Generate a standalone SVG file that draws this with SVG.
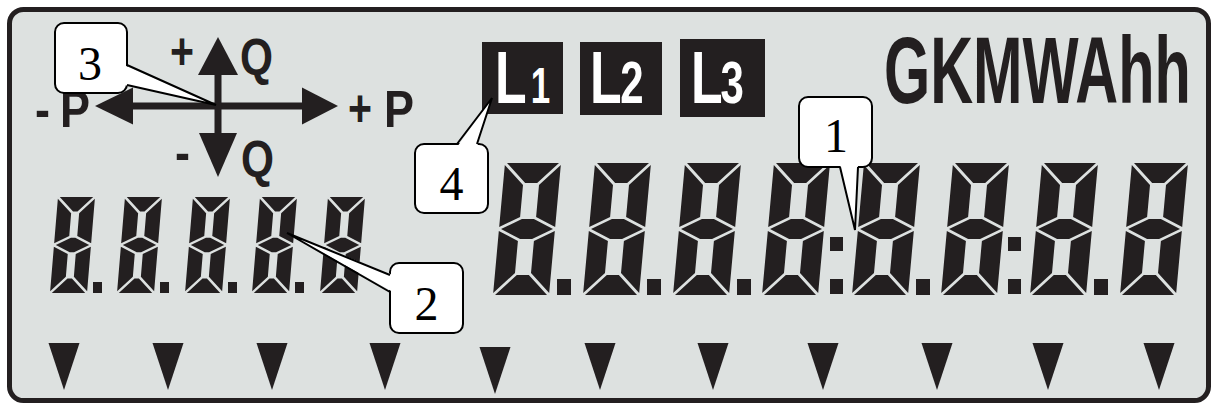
<svg xmlns="http://www.w3.org/2000/svg" xmlns:xlink="http://www.w3.org/1999/xlink" width="1212" height="405" viewBox="0 0 1212 405">
<style>
.lbl{font-family:"Liberation Sans",Arial,sans-serif;font-weight:bold;font-size:52px;fill:#231f20}
.ph{font-family:"Liberation Sans",Arial,sans-serif;font-weight:bold;fill:#fff}
.unit{font-family:"Liberation Sans",Arial,sans-serif;font-weight:bold;font-size:95px;fill:#231f20}
.ink{fill:#231f20}
.box{fill:#fff;stroke:#000;stroke-width:2}
.num{font-family:"Liberation Serif","Times New Roman",serif;font-size:48px;fill:#000;text-anchor:middle}
.tailfill{fill:#fff;stroke:none}
.tail{fill:none;stroke:#000;stroke-width:2;stroke-linejoin:miter}
</style>
<defs>
<path id="big8" d="M2,0H54L34,20H22Z M56,2V64L36,54V22Z M56,68V130L36,110V78Z M2,132H54L34,112H22Z M0,68V130L20,110V78Z M0,2V64L20,54V22Z M2,66L22,56H34L54,66L34,76H22Z"/>
<path id="small8" d="M1.8,0H35.2L20.7,14.5H16.3Z M37,1.8V46.2L22.5,38.95V16.3Z M37,49.8V94.2L22.5,79.7V57.05Z M1.8,96H35.2L20.7,81.5H16.3Z M0,49.8V94.2L14.5,79.7V57.05Z M0,1.8V46.2L14.5,38.95V16.3Z M1.8,48L16.3,40.75H20.7L35.2,48L20.7,55.25H16.3Z"/>
<polygon id="tri" points="-15.5,0 15.5,0 0,47"/>
</defs>
<rect width="1212" height="405" fill="#fff"/>
<g id="lcd-frame">
<rect x="9.5" y="9.5" width="1199" height="391" rx="14" fill="#dde1e0" stroke="#231f20" stroke-width="5"/>
</g>
<g id="pq-indicator" class="ink">
<rect x="130" y="102.5" width="176" height="7"/>
<polygon points="95,106 133,87.5 133,124.5"/>
<polygon points="338,106 302,87.5 302,124.5"/>
<rect x="214.5" y="70" width="7" height="68"/>
<polygon points="218,37 198,75 238,75"/>
<polygon points="218,177 199,133 237,133"/>
<text class="lbl" x="35" y="127" textLength="15" lengthAdjust="spacingAndGlyphs">-</text>
<text class="lbl" x="60" y="127" textLength="30" lengthAdjust="spacingAndGlyphs">P</text>
<text class="lbl" x="170" y="69" textLength="24" lengthAdjust="spacingAndGlyphs">+</text>
<text class="lbl" x="240" y="75" textLength="33" lengthAdjust="spacingAndGlyphs">Q</text>
<text class="lbl" x="348" y="126" textLength="24" lengthAdjust="spacingAndGlyphs">+</text>
<text class="lbl" x="384" y="127" textLength="30" lengthAdjust="spacingAndGlyphs">P</text>
<text class="lbl" x="175" y="170" textLength="15" lengthAdjust="spacingAndGlyphs">-</text>
<text class="lbl" x="241" y="177" textLength="33" lengthAdjust="spacingAndGlyphs">Q</text>
</g>
<g id="phase-L1">
<rect class="ink" x="482" y="42" width="81" height="72"/>
<text class="ph" transform="translate(495,103) scale(0.7,1)" font-size="74">L<tspan font-size="50" dx="6">1</tspan></text>
</g>
<g id="phase-L2">
<rect class="ink" x="580" y="42" width="82" height="73"/>
<text class="ph" transform="translate(590,103) scale(0.7,1)" font-size="74">L<tspan font-size="60" dx="-2">2</tspan></text>
</g>
<g id="phase-L3">
<rect class="ink" x="680" y="39" width="85" height="78"/>
<text class="ph" transform="translate(691,103) scale(0.7,1)" font-size="74">L<tspan font-size="60" dx="-3">3</tspan></text>
</g>
<g id="units">
<text class="unit" transform="translate(884,103) scale(0.625,1)">GKMWAhh</text>
</g>
<g id="aux-digits" class="ink">
<use xlink:href="#small8" transform="translate(58,197) skewX(-4.76)"/>
<rect x="93" y="282" width="9" height="11"/>
<use xlink:href="#small8" transform="translate(125,197) skewX(-4.76)"/>
<rect x="160" y="282" width="9" height="11"/>
<use xlink:href="#small8" transform="translate(193,197) skewX(-4.76)"/>
<rect x="228" y="282" width="9" height="11"/>
<use xlink:href="#small8" transform="translate(260,197) skewX(-4.76)"/>
<rect x="295" y="282" width="9" height="11"/>
<use xlink:href="#small8" transform="translate(328,197) skewX(-4.76)"/>
</g>
<g id="main-digits" class="ink">
<use xlink:href="#big8" transform="translate(505,163) skewX(-5.19)"/>
<rect x="557" y="279" width="14" height="16"/>
<use xlink:href="#big8" transform="translate(595,163) skewX(-5.19)"/>
<rect x="647" y="279" width="14" height="16"/>
<use xlink:href="#big8" transform="translate(685,163) skewX(-5.19)"/>
<rect x="737" y="279" width="14" height="16"/>
<use xlink:href="#big8" transform="translate(774,163) skewX(-5.19)"/>
<rect x="830" y="237" width="13" height="14"/>
<rect x="830" y="279" width="13" height="15"/>
<use xlink:href="#big8" transform="translate(864,163) skewX(-5.19)"/>
<rect x="916" y="279" width="14" height="16"/>
<use xlink:href="#big8" transform="translate(953,163) skewX(-5.19)"/>
<rect x="1008" y="237" width="13" height="14"/>
<rect x="1008" y="279" width="13" height="15"/>
<use xlink:href="#big8" transform="translate(1042,163) skewX(-5.19)"/>
<rect x="1094" y="279" width="14" height="16"/>
<use xlink:href="#big8" transform="translate(1132,163) skewX(-5.19)"/>
</g>
<g id="markers" class="ink">
<use xlink:href="#tri" x="64" y="343"/>
<use xlink:href="#tri" x="168" y="343"/>
<use xlink:href="#tri" x="272" y="343"/>
<use xlink:href="#tri" x="385" y="343"/>
<use xlink:href="#tri" x="495" y="347"/>
<use xlink:href="#tri" x="600" y="343"/>
<use xlink:href="#tri" x="713" y="343"/>
<use xlink:href="#tri" x="823" y="343"/>
<use xlink:href="#tri" x="937" y="343"/>
<use xlink:href="#tri" x="1048" y="343"/>
<use xlink:href="#tri" x="1159" y="343"/>
</g>
<g id="callout-3">
<rect class="box" x="55" y="23" width="72" height="70" rx="9"/>
<text class="num" x="90" y="80">3</text>
</g>
<g id="callout-4">
<rect class="box" x="415" y="144" width="73" height="69" rx="9"/>
<text class="num" x="451.5" y="200">4</text>
</g>
<g id="callout-1">
<rect class="box" x="799" y="97" width="73" height="70" rx="9"/>
<text class="num" x="836" y="152">1</text>
</g>
<g id="callout-2">
<rect class="box" x="390" y="263" width="73" height="70" rx="9"/>
<text class="num" x="426.5" y="320">2</text>
</g>
<g id="connectors">
<polygon class="tailfill" points="124,65 216,105 124,85"/>
<polyline class="tail" points="127,65 216,105 127,85"/>
<polygon class="tailfill" points="457,147 492,98 477,147"/>
<polyline class="tail" points="457,144 492,98 477,144"/>
<polygon class="tailfill" points="840,164 855,230 858,164"/>
<polyline class="tail" points="840,167 855,230 858,167"/>
<polygon class="tailfill" points="393,275 287,233 393,292"/>
<polyline class="tail" points="390,275 287,233 390,292"/>
</g>
</svg>
